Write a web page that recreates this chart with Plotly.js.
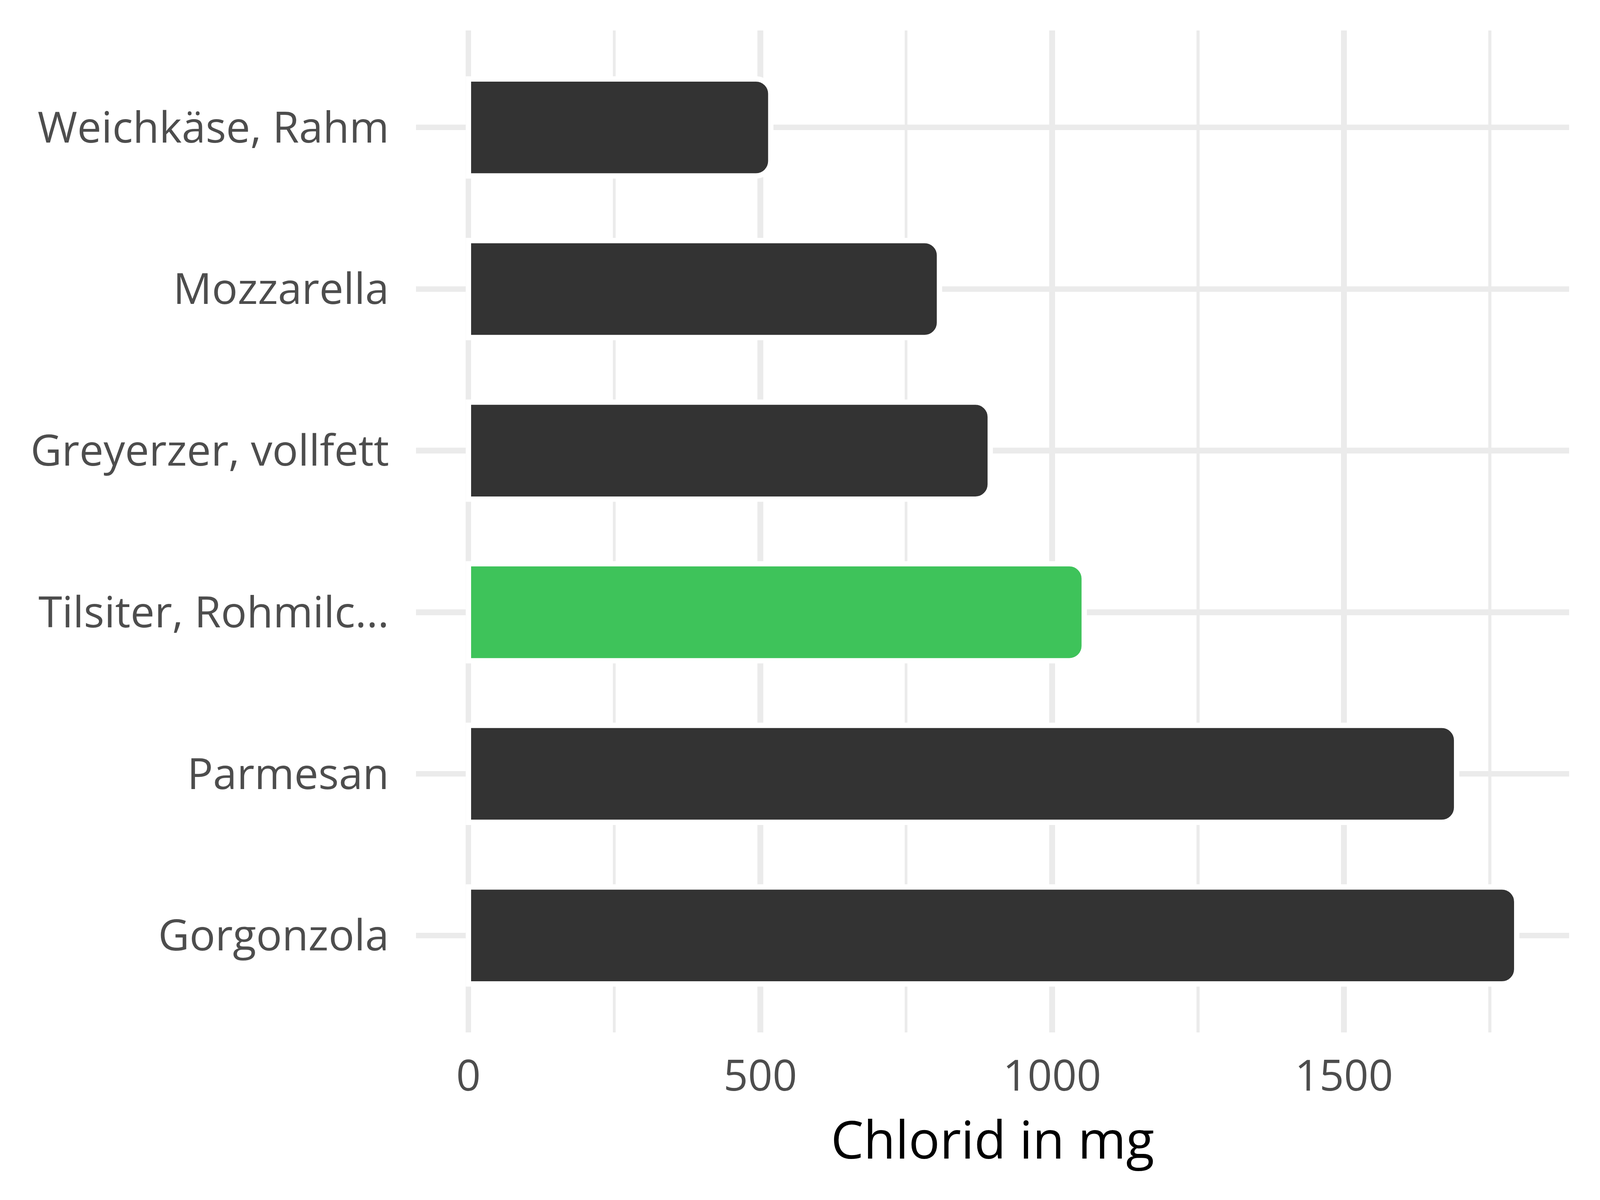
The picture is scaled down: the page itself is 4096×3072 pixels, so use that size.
<!DOCTYPE html>
<html>
<head>
<meta charset="utf-8">
<script src="https://cdn.plot.ly/plotly-3.0.1.min.js"></script>
<style>
html, body { margin: 0; padding: 0; background: #ffffff; }
#chart { width: 4096px; height: 3072px; }
</style>
</head>
<body>
<div id="chart"></div>
<script>
// Data (top to bottom as shown)
const categories = ["Weichkäse, Rahm", "Mozzarella", "Greyerzer, vollfett", "Tilsiter, Rohmilc...", "Parmesan", "Gorgonzola"];
const chloridMg = [518, 807, 894, 1055, 1693, 1796];
const barColors = ["#333333", "#333333", "#333333", "#3EC35A", "#333333", "#333333"];
const xTickValues = [0, 500, 1000, 1500];
const xTickLabels = ["0", "500", "1000", "1500"];
const xAxisTitle = "Chlorid in mg";

const S = 4096 / 4800;
const maxVal = Math.max(...chloridMg);
const pad = maxVal * 0.05;

const trace = {
  type: "bar",
  orientation: "h",
  x: chloridMg,
  y: categories,
  width: 0.6,
  marker: {
    color: barColors,
    cornerradius: Math.round(45 * S),
    line: { color: "#ffffff", width: 16 * S }
  },
  hoverinfo: "skip"
};

const layout = {
  width: 4096,
  height: 3072,
  paper_bgcolor: "#ffffff",
  plot_bgcolor: "#ffffff",
  showlegend: false,
  margin: { l: 1065, r: 79, t: 78, b: 429, pad: 0 },
  font: { family: "Open Sans, sans-serif", color: "#4D4D4D" },
  xaxis: {
    range: [-pad, maxVal + pad],
    tickmode: "array",
    tickvals: xTickValues,
    ticktext: xTickLabels,
    ticks: "",
    showline: false,
    zeroline: false,
    showgrid: true,
    gridcolor: "#EBEBEB",
    gridwidth: 17 * S,
    minor: { dtick: 250, tick0: 0, showgrid: true, gridcolor: "#EBEBEB", gridwidth: 8.5 * S, ticks: "" },
    tickfont: { family: "Open Sans, sans-serif", size: 110, color: "#4D4D4D" },
    ticklabelstandoff: 38,
    title: { text: xAxisTitle, font: { family: "Open Sans, sans-serif", size: 133, color: "#000000" }, standoff: 24 }
  },
  yaxis: {
    type: "category",
    categoryorder: "array",
    categoryarray: categories,
    range: [categories.length - 1 + 0.6, -0.6],
    ticks: "",
    showline: false,
    zeroline: false,
    showgrid: true,
    gridcolor: "#EBEBEB",
    gridwidth: 17 * S,
    tickfont: { family: "Open Sans, sans-serif", size: 110, color: "#4D4D4D" },
    ticklabelstandoff: 68
  }
};

Plotly.newPlot("chart", [trace], layout, { staticPlot: true, displayModeBar: false });
</script>
</body>
</html>
